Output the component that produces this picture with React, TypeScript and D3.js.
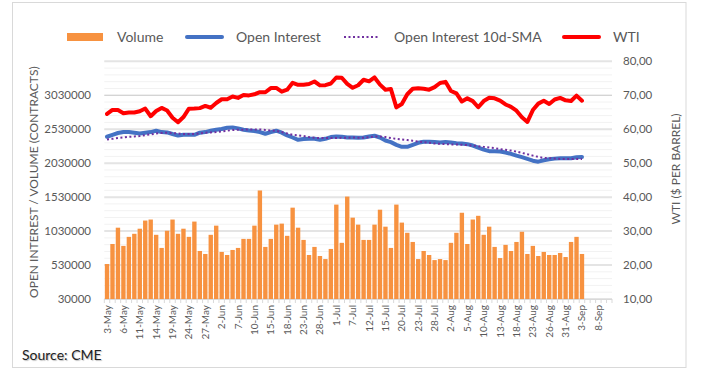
import * as d3 from 'd3'

// trading days on the category axis (every 3rd one is labelled)
const dates = [
  '3-May', '4-May', '5-May', '6-May', '7-May', '10-May', '11-May', '12-May', '13-May', '14-May',
  '17-May', '18-May', '19-May', '20-May', '21-May', '24-May', '25-May', '26-May', '27-May', '28-May',
  '1-Jun', '2-Jun', '3-Jun', '4-Jun', '7-Jun', '8-Jun', '9-Jun', '10-Jun', '11-Jun', '14-Jun',
  '15-Jun', '16-Jun', '17-Jun', '18-Jun', '21-Jun', '22-Jun', '23-Jun', '24-Jun', '25-Jun', '28-Jun',
  '29-Jun', '30-Jun', '1-Jul', '2-Jul', '6-Jul', '7-Jul', '8-Jul', '9-Jul', '12-Jul', '13-Jul',
  '14-Jul', '15-Jul', '16-Jul', '19-Jul', '20-Jul', '21-Jul', '22-Jul', '23-Jul', '26-Jul', '27-Jul',
  '28-Jul', '29-Jul', '30-Jul', '2-Aug', '3-Aug', '4-Aug', '5-Aug', '6-Aug', '9-Aug', '10-Aug',
  '11-Aug', '12-Aug', '13-Aug', '16-Aug', '17-Aug', '18-Aug', '19-Aug', '20-Aug', '23-Aug', '24-Aug',
  '25-Aug', '26-Aug', '27-Aug', '30-Aug', '31-Aug', '1-Sep', '2-Sep', '3-Sep', '6-Sep', '7-Sep',
  '8-Sep', '9-Sep', '10-Sep',
]

const volume = [
  545000, 840000, 1080000, 812000, 945000, 990000, 1065000, 1185000, 1200000, 975000,
  782000, 1035000, 1200000, 990000, 1065000, 945000, 1170000, 737000, 693000, 975000,
  1110000, 723000, 678000, 752000, 782000, 915000, 915000, 1110000, 1628000, 797000,
  915000, 1125000, 1140000, 960000, 1375000, 1080000, 900000, 678000, 797000, 663000,
  618000, 767000, 1420000, 857000, 1538000, 1228000, 1125000, 900000, 900000, 1125000,
  1345000, 1095000, 782000, 1420000, 1155000, 1005000, 870000, 618000, 737000, 678000,
  603000, 618000, 603000, 857000, 1005000, 1300000, 840000, 1200000, 1255000, 975000,
  1095000, 797000, 633000, 827000, 737000, 870000, 1020000, 693000, 812000, 663000,
  723000, 678000, 678000, 708000, 648000, 870000, 945000, 693000,
]

// open interest, thousands of contracts
const openInterest = [
  2419, 2448, 2474, 2488, 2488, 2478, 2468, 2478, 2488, 2508,
  2488, 2483, 2459, 2438, 2448, 2448, 2448, 2478, 2488, 2508,
  2523, 2533, 2552, 2557, 2542, 2523, 2512, 2503, 2488, 2463,
  2488, 2508, 2478, 2438, 2408, 2374, 2385, 2389, 2389, 2374,
  2389, 2414, 2423, 2419, 2408, 2408, 2404, 2408, 2423, 2434,
  2408, 2364, 2340, 2300, 2270, 2270, 2300, 2330, 2345, 2345,
  2340, 2334, 2340, 2334, 2325, 2319, 2310, 2290, 2260, 2230,
  2207, 2207, 2201, 2186, 2167, 2141, 2118, 2092, 2067, 2052,
  2073, 2088, 2097, 2103, 2103, 2103, 2118, 2122,
]

const oiSma = [
  2379, 2389, 2400, 2408, 2419, 2423, 2429, 2444, 2453, 2468,
  2474, 2478, 2474, 2468, 2459, 2459, 2459, 2468, 2478, 2483,
  2488, 2497, 2508, 2518, 2523, 2523, 2527, 2527, 2527, 2518,
  2512, 2508, 2488, 2468, 2448, 2438, 2429, 2414, 2404, 2400,
  2400, 2400, 2400, 2404, 2404, 2408, 2404, 2404, 2414, 2423,
  2423, 2414, 2400, 2389, 2379, 2370, 2359, 2349, 2340, 2330,
  2319, 2315, 2310, 2305, 2305, 2300, 2296, 2290, 2281, 2270,
  2260, 2251, 2236, 2226, 2215, 2201, 2181, 2162, 2141, 2122,
  2107, 2103, 2097, 2092, 2092, 2092, 2092, 2092,
]

const wti = [
  64.49, 65.69, 65.63, 64.71, 64.9, 64.92, 65.28, 66.08, 63.82, 65.37,
  66.27, 65.49, 63.36, 62.05, 63.58, 66.05, 66.07, 66.21, 66.85, 66.32,
  67.72, 68.83, 68.81, 69.62, 69.23, 70.05, 69.96, 70.29, 70.91, 70.88,
  72.12, 72.15, 71.04, 71.64, 73.66, 73.06, 73.08, 73.3, 74.05, 72.91,
  72.98, 73.47, 75.23, 75.16, 73.37, 72.2, 72.94, 74.56, 74.1, 75.25,
  73.13, 71.65, 71.81, 66.42, 67.42, 70.3, 71.91, 72.07, 71.91, 71.65,
  72.39, 73.62, 73.95, 71.26, 70.56, 68.15, 69.09, 68.28, 66.48, 68.29,
  69.25, 69.09, 68.44, 67.29, 66.59, 65.46, 63.5, 62.14, 65.64, 67.54,
  68.36, 67.42, 68.74, 69.21, 68.5, 68.3, 69.9, 68.4,
]

const leftTicks = [30000, 530000, 1030000, 1530000, 2030000, 2530000, 3030000]
const rightTicks = [10, 20, 30, 40, 50, 60, 70, 80]

const W = 706
const H = 388
const plot = { left: 104.3, right: 612, top: 61.3, bottom: 299 }
const font = 'Lato, "Open Sans", sans-serif'
const grey = '#595959'

export default function App() {
  const x = d3.scaleBand<string>().domain(dates).range([plot.left, plot.right]).paddingInner(0.2).paddingOuter(0.1)
  const yL = d3.scaleLinear().domain([30000, 3530000]).range([plot.bottom, plot.top])
  const yR = d3.scaleLinear().domain([10, 80]).range([plot.bottom, plot.top])
  const cx = (i: number) => (x(dates[i]) ?? 0) + x.bandwidth() / 2

  const oiLine = d3.line<number>().x((_, i) => cx(i)).y((d) => yL(d * 1000))
  const wtiLine = d3.line<number>().x((_, i) => cx(i)).y((d) => yR(d))
  const minor = d3.range(10, 80.01, 2)
  const step = x.step()

  return (
    <div style={{ position: 'absolute', left: 0, top: 0 }}>
      <svg width={W} height={H} style={{ display: 'block', fontFamily: font }}>
        <rect x={0} y={0} width={W} height={H} fill="#fff" />
        <rect x={12.5} y={2.5} width={673.5} height={365} fill="none" stroke="#d9d9d9" />

        {/* gridlines */}
        {minor.map((v) => (
          <line key={'m' + v} x1={plot.left} x2={plot.right} y1={yR(v)} y2={yR(v)} stroke="#f2f2f2" />
        ))}
        {rightTicks.map((v) => (
          <line
            key={'g' + v}
            x1={plot.left}
            x2={plot.right}
            y1={yR(v)}
            y2={yR(v)}
            stroke={v === 70 ? '#c9c9c9' : '#e4e4e4'}
            strokeWidth={v === 70 ? 1 : 2}
          />
        ))}

        {/* volume bars */}
        {volume.map((v, i) => (
          <rect
            key={i}
            x={x(dates[i])}
            y={yL(v)}
            width={x.bandwidth()}
            height={yL(30000) - yL(v)}
            fill="#f79240"
          />
        ))}

        {/* x axis */}
        <line x1={plot.left} x2={plot.right} y1={plot.bottom + 0.5} y2={plot.bottom + 0.5} stroke="#d9d9d9" />
        {dates.map((d, i) => (
          <line
            key={'t' + d}
            x1={plot.left + i * step}
            x2={plot.left + i * step}
            y1={plot.bottom}
            y2={plot.bottom + 4}
            stroke="#d9d9d9"
          />
        ))}
        <line x1={plot.right} x2={plot.right} y1={plot.bottom} y2={plot.bottom + 4} stroke="#d9d9d9" />
        {dates.map((d, i) =>
          i % 3 === 0 ? (
            <text
              key={'l' + d}
              transform={`translate(${cx(i) + 3.5},${plot.bottom + 6}) rotate(-90)`}
              textAnchor="end"
              fontSize={10}
              fill={grey}
            >
              {d}
            </text>
          ) : null,
        )}

        {/* lines */}
        <path d={oiLine(openInterest) ?? ''} fill="none" stroke="#4472c4" strokeWidth={4} strokeLinejoin="round" strokeLinecap="round" />
        <path d={oiLine(oiSma) ?? ''} fill="none" stroke="#7030a0" strokeWidth={2} strokeDasharray="2 2.5" />
        <path d={wtiLine(wti) ?? ''} fill="none" stroke="#ff0000" strokeWidth={4} strokeLinejoin="round" strokeLinecap="round" />

        {/* left axis */}
        {leftTicks.map((v) => (
          <text key={'yl' + v} x={91} y={yL(v) + 4} textAnchor="end" fontSize={11.5} fill={grey}>
            {v}
          </text>
        ))}
        <text
          transform={`translate(38,${(plot.top + plot.bottom) / 2 + 2}) rotate(-90)`}
          textAnchor="middle"
          fontSize={12}
          fill={grey}
        >
          OPEN INTEREST / VOLUME (CONTRACTS)
        </text>

        {/* right axis */}
        {rightTicks.map((v) => (
          <text key={'yr' + v} x={623} y={yR(v) + 4} fontSize={11.5} fill={grey}>
            {v.toFixed(2).replace('.', ',')}
          </text>
        ))}
        <text transform={`translate(680,169) rotate(-90)`} textAnchor="middle" fontSize={12} fill={grey}>
          WTI ($ PER BARREL)
        </text>

        {/* legend */}
        <rect x={67} y={33} width={36} height={8} fill="#f79240" />
        <text x={117} y={42} fontSize={14} fill={grey}>Volume</text>
        <line x1={187} x2={222} y1={37} y2={37} stroke="#4472c4" strokeWidth={4} strokeLinecap="round" />
        <text x={236} y={42} fontSize={14} fill={grey}>Open Interest</text>
        <line x1={344} x2={380} y1={37} y2={37} stroke="#7030a0" strokeWidth={2} strokeDasharray="2 2.5" />
        <text x={394} y={42} fontSize={14} fill={grey}>Open Interest 10d-SMA</text>
        <line x1={564} x2={599} y1={37} y2={37} stroke="#ff0000" strokeWidth={4} strokeLinecap="round" />
        <text x={613} y={42} fontSize={14} fill={grey}>WTI</text>

        <text x={22} y={360} fontSize={14} fill="#222" style={{ textShadow: '1px 1px 1px rgba(0,0,0,0.25)' }}>
          Source: CME
        </text>
      </svg>
    </div>
  )
}
